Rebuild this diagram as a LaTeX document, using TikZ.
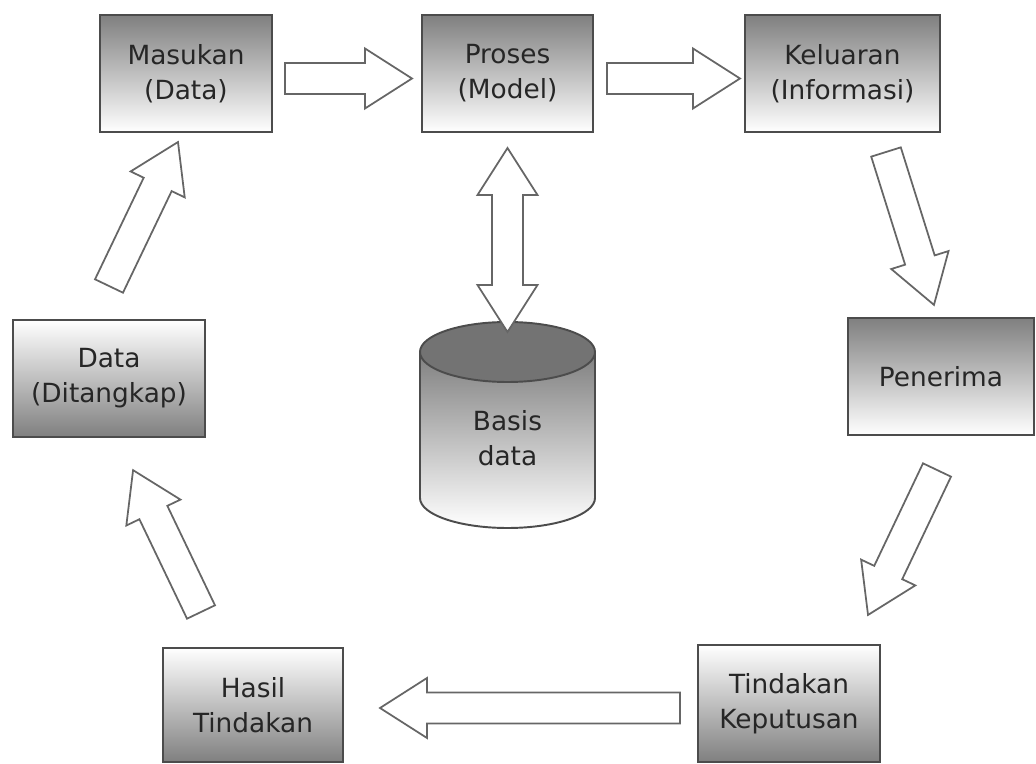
\documentclass[tikz,border=0pt]{standalone}
\usepackage{fontspec}
\setmainfont{DejaVu Sans}
\usetikzlibrary{calc,positioning}

\tikzstyle{box}=[rectangle,draw=black!70,line width=1.1pt,align=center,
minimum height=2.34cm,text=black!85,font=\fontsize{15}{20}\selectfont]
\tikzstyle{dbox}=[box,top color=black!50,bottom color=white]
\tikzstyle{ubox}=[box,top color=white,bottom color=black!50]
\tikzstyle{barrow}=[draw=black!60,line width=1pt,fill=white,line join=miter]

% outlined block arrow from tail (#1) to tip (#2)
\newcommand{\blockarrow}[2]{%
  \pgfpointdiff{\pgfpointanchor{#1}{center}}{\pgfpointanchor{#2}{center}}%
  \pgfgetlastxy{\dx}{\dy}%
  \pgfmathsetmacro{\ang}{atan2(\dy,\dx)}%
  \pgfmathsetmacro{\len}{veclen(\dx,\dy)}%
  \begin{scope}[shift={(#1)},rotate=\ang]
    \draw[barrow] (0pt,-0.31cm) -- (\len pt-0.94cm,-0.31cm) -- (\len pt-0.94cm,-0.6cm)
      -- (\len pt,0pt) -- (\len pt-0.94cm,0.6cm) -- (\len pt-0.94cm,0.31cm)
      -- (0pt,0.31cm) -- cycle;
  \end{scope}}
% same, with a head on both ends
\newcommand{\dblockarrow}[2]{%
  \pgfpointdiff{\pgfpointanchor{#1}{center}}{\pgfpointanchor{#2}{center}}%
  \pgfgetlastxy{\dx}{\dy}%
  \pgfmathsetmacro{\ang}{atan2(\dy,\dx)}%
  \pgfmathsetmacro{\len}{veclen(\dx,\dy)}%
  \begin{scope}[shift={(#1)},rotate=\ang]
    \draw[barrow] (0pt,0pt) -- (0.94cm,0.6cm) -- (0.94cm,0.31cm)
      -- (\len pt-0.94cm,0.31cm) -- (\len pt-0.94cm,0.6cm) -- (\len pt,0pt)
      -- (\len pt-0.94cm,-0.6cm) -- (\len pt-0.94cm,-0.31cm)
      -- (0.94cm,-0.31cm) -- (0.94cm,-0.6cm) -- cycle;
  \end{scope}}

\begin{document}
\begin{tikzpicture}
            \useasboundingbox (0,0) rectangle (20.72,-15.28);

            % TOP ROW

            \node[dbox,minimum width=3.44cm] (mas) at (3.72,-1.47) {Masukan\\(Data)};
            \node[dbox,minimum width=3.42cm] (pro) at (10.15,-1.47) {Proses\\(Model)};
            \node[dbox,minimum width=3.9cm] (kel) at (16.85,-1.47) {Keluaran\\(Informasi)};

            % SIDES

            \node[ubox,minimum width=3.84cm] (dat) at (2.18,-7.57) {Data\\(Ditangkap)};
            \node[dbox,minimum width=3.72cm] (pen) at (18.82,-7.53) {Penerima};

            % BOTTOM ROW

            \node[ubox,minimum width=3.6cm,minimum height=2.28cm] (has) at (5.06,-14.1) {Hasil\\Tindakan};
            \node[ubox,minimum width=3.64cm] (tin) at (15.78,-14.07) {Tindakan\\Keputusan};

            % DATABASE

            \shade[top color=black!50,bottom color=white]
              (8.4,-7.04) -- (8.4,-9.96) arc[start angle=180,end angle=360,x radius=1.75,y radius=0.6]
              -- (11.9,-7.04) -- cycle;
            \draw[draw=black!70,line width=1.1pt]
              (8.4,-7.04) -- (8.4,-9.96) arc[start angle=180,end angle=360,x radius=1.75,y radius=0.6]
              -- (11.9,-7.04);
            \draw[draw=black!70,line width=1.1pt,fill=black!55] (10.15,-7.04) ellipse (1.75 and 0.6);
            \node[text=black!85,align=center,font=\fontsize{15}{20}\selectfont] (db) at (10.15,-8.76) {Basis\\data};

            % ARROW ENDS

            \coordinate (a1s) at (5.7,-1.57);   \coordinate (a1e) at (8.24,-1.57);
            \coordinate (a2s) at (12.14,-1.57); \coordinate (a2e) at (14.8,-1.57);
            \coordinate (a3s) at (17.72,-3.04); \coordinate (a3e) at (18.68,-6.1);
            \coordinate (a4s) at (18.74,-9.4);  \coordinate (a4e) at (17.36,-12.3);
            \coordinate (a5s) at (13.6,-14.16); \coordinate (a5e) at (7.6,-14.16);
            \coordinate (a6s) at (4.02,-12.24); \coordinate (a6e) at (2.66,-9.4);
            \coordinate (a7s) at (2.18,-5.72);  \coordinate (a7e) at (3.56,-2.84);
            \coordinate (dbs) at (10.15,-2.96); \coordinate (dbe) at (10.15,-6.64);

            \blockarrow{a1s}{a1e}
            \blockarrow{a2s}{a2e}
            \blockarrow{a3s}{a3e}
            \blockarrow{a4s}{a4e}
            \blockarrow{a5s}{a5e}
            \blockarrow{a6s}{a6e}
            \blockarrow{a7s}{a7e}
            \dblockarrow{dbs}{dbe}

\end{tikzpicture}
\end{document}
